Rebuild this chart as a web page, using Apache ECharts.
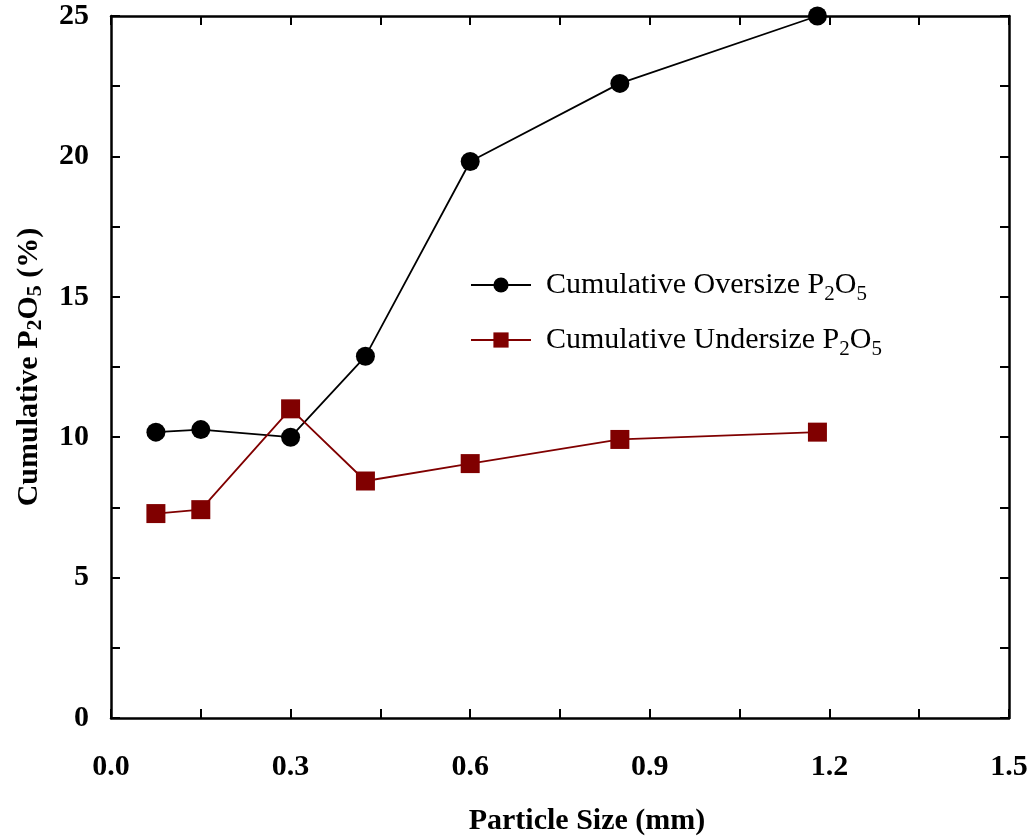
<!DOCTYPE html>
<html>
<head>
<meta charset="utf-8">
<script src="https://cdn.jsdelivr.net/npm/echarts@6/dist/echarts.min.js"></script>
<style>
html,body{margin:0;padding:0;background:#fff;}
#chart{width:1034px;height:836px;}
</style>
</head>
<body>
<div id="chart"></div>
<script>
const particleSize = [0.075, 0.15, 0.3, 0.425, 0.6, 0.85, 1.18];
const oversize = [10.18, 10.27, 10.0, 12.88, 19.82, 22.6, 25.0];
const undersize = [7.28, 7.42, 11.01, 8.44, 9.06, 9.92, 10.18];
const seriesNames = ['Cumulative Oversize P2O5', 'Cumulative Undersize P2O5'];
const xTitle = 'Particle Size (mm)';

const FONT = '"Liberation Serif", "Times New Roman", serif';
const chart = echarts.init(document.getElementById('chart'));

const tickStyle = {show: true, inside: true, length: 9, lineStyle: {color: '#000', width: 2}};
const minorStyle = {show: true, splitNumber: 2, length: 9, lineStyle: {color: '#000', width: 2}};
const lineStyle = {show: true, onZero: false, lineStyle: {color: '#000', width: 2.5}};

function toPair(xs, ys) { return xs.map((x, i) => [x, ys[i]]); }

chart.setOption({
  backgroundColor: '#fff',
  animation: false,
  grid: {left: 111, right: 25, top: 16, bottom: 118, containLabel: false, outerBoundsMode: 'none'},
  legend: {
    orient: 'vertical',
    left: 465,
    top: 265,
    itemWidth: 60,
    itemHeight: 19,
    itemGap: 20,
    data: seriesNames,
    formatter: function (name) {
      const m = name.match(/^(.*) P2O5$/);
      return '{t|' + m[1] + ' P}{s|2}{t|O}{s|5}';
    },
    textStyle: {
      padding: [0, 0, 0, 10],
      rich: {
        t: {fontFamily: FONT, fontSize: 30, color: '#000', lineHeight: 40, verticalAlign: 'middle'},
        s: {fontFamily: FONT, fontSize: 21, color: '#000', lineHeight: 20, verticalAlign: 'bottom'}
      }
    }
  },
  xAxis: [{
    type: 'value', min: 0, max: 1.5, interval: 0.3,
    axisLine: lineStyle, axisTick: tickStyle, minorTick: minorStyle,
    splitLine: {show: false},
    axisLabel: {margin: 34, fontFamily: FONT, fontSize: 30, fontWeight: 'bold', color: '#000',
      formatter: v => v.toFixed(1)},
    name: xTitle, nameLocation: 'middle', nameGap: 88,
    nameTextStyle: {fontFamily: FONT, fontSize: 30, fontWeight: 'bold', color: '#000', padding: [0, 0, 0, 54]}
  }, {
    type: 'value', min: 0, max: 1.5, interval: 0.3, position: 'top',
    axisLine: lineStyle, axisTick: tickStyle, minorTick: minorStyle,
    splitLine: {show: false}, axisLabel: {show: false}
  }],
  yAxis: [{
    type: 'value', min: 0, max: 25, interval: 5,
    axisLine: lineStyle, axisTick: tickStyle, minorTick: minorStyle,
    splitLine: {show: false},
    axisLabel: {margin: 22, fontFamily: FONT, fontSize: 30, fontWeight: 'bold', color: '#000'},
    name: '{t|Cumulative P}{s|2}{t|O}{s|5}{t| (%)}',
    nameLocation: 'middle', nameGap: 65, nameRotate: 90,
    nameTextStyle: {
      rich: {
        t: {fontFamily: FONT, fontSize: 30, fontWeight: 'bold', color: '#000', lineHeight: 34, verticalAlign: 'middle'},
        s: {fontFamily: FONT, fontSize: 22, fontWeight: 'bold', color: '#000', lineHeight: 24, verticalAlign: 'bottom'}
      }
    }
  }, {
    type: 'value', min: 0, max: 25, interval: 5, position: 'right',
    axisLine: lineStyle, axisTick: tickStyle, minorTick: minorStyle,
    splitLine: {show: false}, axisLabel: {show: false}
  }],
  series: [{
    name: seriesNames[0], type: 'line', xAxisIndex: 0, yAxisIndex: 0,
    data: toPair(particleSize, oversize),
    symbol: 'circle', symbolSize: 19,
    lineStyle: {color: '#000', width: 1.8},
    itemStyle: {color: '#000'}
  }, {
    name: seriesNames[1], type: 'line', xAxisIndex: 0, yAxisIndex: 0,
    data: toPair(particleSize, undersize),
    symbol: 'rect', symbolSize: 19,
    lineStyle: {color: '#800000', width: 1.8},
    itemStyle: {color: '#800000'}
  }]
});
</script>
</body>
</html>
